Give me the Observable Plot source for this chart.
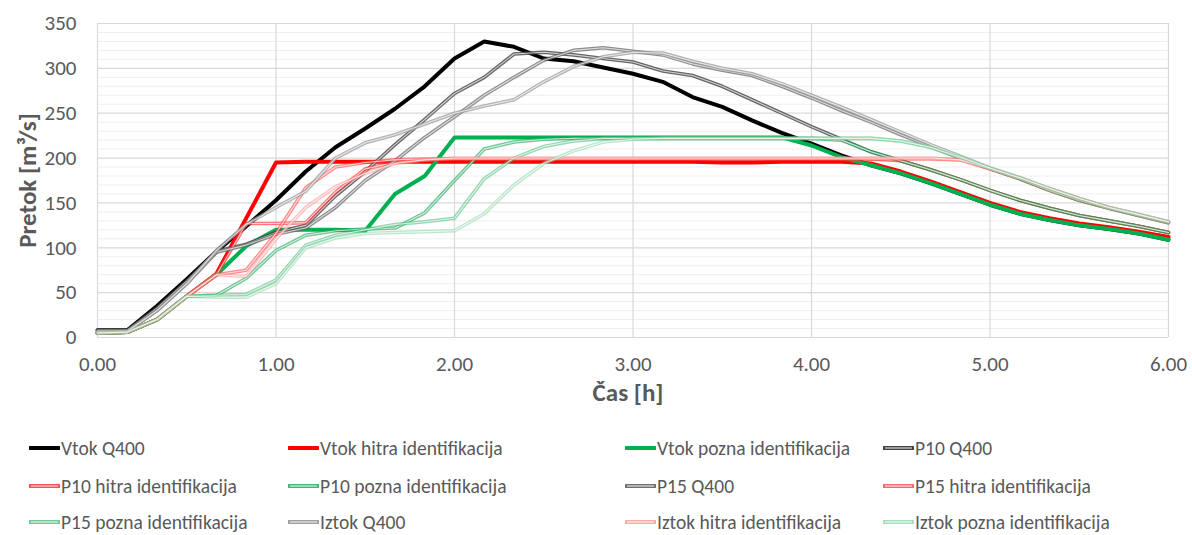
<!DOCTYPE html>
<html>
<head>
<meta charset="utf-8">
<script src="https://cdn.jsdelivr.net/npm/d3@7"></script>
<script src="https://cdn.jsdelivr.net/npm/@observablehq/plot@0.6"></script>
<style>
  html, body { margin: 0; padding: 0; background: #fff; }
  #wrap { position: relative; width: 1192px; height: 535px; overflow: hidden; }
  #legend { position: absolute; left: 0; top: 415px; width: 1192px; height: 120px;
            font-family: Carlito, Lato, sans-serif; font-size: 19.5px; color: #595959; }
  .item { position: absolute; display: flex; align-items: center; white-space: nowrap; height: 22px; line-height: 22px; }
  .item svg { display: block; margin-right: 1px; }
</style>
</head>
<body>
<div id="wrap"><div id="chart"></div><div id="legend"></div></div>
<script>
// time in minutes (10-minute steps)
const minutes = [0,10,20,30,40,50,60,70,80,90,100,110,120,130,140,150,160,170,180,190,200,210,220,230,240,250,260,270,280,290,300,310,320,330,340,350,360];

const vtokQ400   = [8,8,35,65,96,124,153,185,212,233,255,280,311,330,324,311,308,301,294,285,268,257,242,228,216,203,192,183,172,160,148,138,131,125,121,116,109];
const vtokHitra  = [5,6,20,46,71,133,195,196,196,196,196,196,196,196,196,196,196,196,196,196,196,195,195,196,196,196,194,185,174,162,150,140,133,127,123,118,112];
const vtokPozna  = [5,6,20,46,70,102,120,120,120,119,160,180,223,223,223,223,223,223,223,223,223,223,223,223,214,201,192,183,172,160,148,138,131,125,121,116,109];
const p10Q400    = [8,8,33,63,96,104,117,125,158,185,215,243,272,290,316,318,315,311,307,297,292,280,265,250,235,221,207,197,187,176,164,153,144,136,130,124,117];
const p10Hitra   = [5,6,20,46,70,127,127,128,162,188,195,198,199,199,199,199,199,199,199,199,199,199,199,199,199,199,199,197,187,176,164,153,144,136,130,124,117];
const p10Pozna   = [5,6,20,46,47,66,97,114,119,121,122,139,175,210,218,221,222,222,222,222,222,222,222,222,222,220,207,197,187,176,164,153,144,136,130,124,117];
const p15Q400    = [7,7,30,60,95,103,115,122,145,175,197,223,246,270,290,309,320,323,319,315,305,298,292,280,267,253,240,226,213,200,188,177,164,153,144,136,128];
const p15Hitra   = [5,6,20,46,70,75,116,167,190,195,198,199,199,199,199,199,199,199,199,199,199,199,199,199,199,199,199,199,199,198,188,177,164,153,144,136,128];
const p15Pozna   = [5,6,20,46,47,48,64,103,114,120,126,129,133,177,200,213,219,222,222,222,222,222,222,222,222,222,222,219,212,200,188,177,164,153,144,136,128];
const iztokQ400  = [7,7,30,60,97,126,145,163,200,217,226,238,250,258,265,285,302,313,318,317,308,300,294,283,270,257,243,229,215,202,189,178,166,155,145,137,129];
const iztokHitra = [5,6,20,46,70,68,110,145,168,183,194,198,200,200,200,200,200,200,200,200,200,200,200,200,200,200,200,200,200,198,188,178,166,155,145,137,129];
const iztokPozna = [5,6,20,46,45,45,60,100,111,116,117,118,119,138,170,194,208,218,221,222,222,222,222,222,222,222,222,219,212,201,189,178,166,155,145,137,129];

const seriesNames = ["Vtok Q400","Vtok hitra identifikacija","Vtok pozna identifikacija","P10 Q400",
  "P10 hitra identifikacija","P10 pozna identifikacija","P15 Q400","P15 hitra identifikacija",
  "P15 pozna identifikacija","Iztok Q400","Iztok hitra identifikacija","Iztok pozna identifikacija"];
const seriesValues = [vtokQ400, vtokHitra, vtokPozna, p10Q400, p10Hitra, p10Pozna, p15Q400, p15Hitra, p15Pozna, iztokQ400, iztokHitra, iztokPozna];

const xTicks = [0,1,2,3,4,5,6];
const yTicks = [0,50,100,150,200,250,300,350];

// styles (kept apart from the data)
const styles = [
  {color:"#000000", kind:"thick"},
  {color:"#ff0000", kind:"thick"},
  {color:"#00b050", kind:"thick"},
  {color:"#404040", kind:"double", op:0.8},
  {color:"#ff3030", kind:"double", op:0.65},
  {color:"#22a85c", kind:"double", op:0.65},
  {color:"#686868", kind:"double", op:0.75},
  {color:"#ff4040", kind:"double", op:0.6},
  {color:"#4cbd7b", kind:"double", op:0.6},
  {color:"#9a9a9a", kind:"double", op:0.75},
  {color:"#ff8c8c", kind:"double", op:0.55},
  {color:"#8fd6aa", kind:"double", op:0.6}
];

const minorY = d3.range(0, 351, 10).filter(v => v % 50 !== 0);

const lineMarks = [];
seriesNames.forEach((name, k) => {
  const data = minutes.map((m, i) => ({t: m / 60, v: seriesValues[k][i], s: name}));
  const st = styles[k];
  if (st.kind === "thick") {
    lineMarks.push(Plot.line(data, {x: "t", y: "v", stroke: st.color, strokeWidth: 4, strokeLinejoin: "round"}));
  } else {
    lineMarks.push(Plot.line(data, {x: "t", y: "v", stroke: st.color, strokeWidth: 3.6, strokeOpacity: st.op, strokeLinejoin: "round"}));
    lineMarks.push(Plot.line(data, {x: "t", y: "v", stroke: "#ffffff", strokeWidth: 1.1, strokeOpacity: 0.7, strokeLinejoin: "round"}));
  }
});

const chart = Plot.plot({
  width: 1192, height: 415,
  marginLeft: 97, marginRight: 24, marginTop: 23, marginBottom: 78,
  x: {domain: [0, 6]},
  y: {domain: [0, 350]},
  style: {fontFamily: "Carlito, Lato, sans-serif", color: "#595959", background: "#ffffff", overflow: "visible"},
  marks: [
    Plot.ruleY(minorY, {stroke: "#efefef", strokeWidth: 1}),
    Plot.ruleY(yTicks, {stroke: "#d9d9d9", strokeWidth: 1.2}),
    Plot.ruleX(xTicks, {stroke: "#d9d9d9", strokeWidth: 1.2}),
    Plot.axisY({ticks: yTicks, tickSize: 0, tickPadding: 21, fontSize: 21, label: null}),
    Plot.axisX({ticks: xTicks, tickSize: 0, tickPadding: 19, fontSize: 21, label: null, tickFormat: d => d.toFixed(2)}),
    ...lineMarks,
    Plot.text(["Pretok [m³/s]"], {frameAnchor: "left", dx: -70, rotate: -90, textAnchor: "middle", fontSize: 25, fontWeight: "bold", fill: "#595959"}),
    Plot.text(["Čas [h]"], {frameAnchor: "bottom", dx: -5, dy: 63, textAnchor: "middle", fontSize: 25, fontWeight: "bold", fill: "#595959"})
  ]
});
document.getElementById("chart").appendChild(chart);

// legend
const legendPos = [
  [29,33],[288,33],[625,33],[883,33],
  [29,71],[288,71],[625,71],[883,71],
  [29,107],[288,107],[625,107],[883,107]
];
const legend = document.getElementById("legend");
seriesNames.forEach((name, k) => {
  const st = styles[k];
  const div = document.createElement("div");
  div.className = "item";
  div.style.left = legendPos[k][0] + "px";
  div.style.top = (legendPos[k][1] - 11) + "px";
  let sw;
  if (st.kind === "thick") {
    sw = `<svg width="31" height="8"><line x1="1" y1="4" x2="30" y2="4" stroke="${st.color}" stroke-width="4" stroke-linecap="round"/></svg>`;
  } else {
    sw = `<svg width="31" height="8"><line x1="1" y1="4" x2="30" y2="4" stroke="${st.color}" stroke-opacity="${Math.min(1, st.op + 0.2)}" stroke-width="4" stroke-linecap="round"/><line x1="2" y1="4" x2="29" y2="4" stroke="#fff" stroke-opacity="0.8" stroke-width="1.2"/></svg>`;
  }
  div.innerHTML = sw + `<span>${name}</span>`;
  legend.appendChild(div);
});
</script>
</body>
</html>
